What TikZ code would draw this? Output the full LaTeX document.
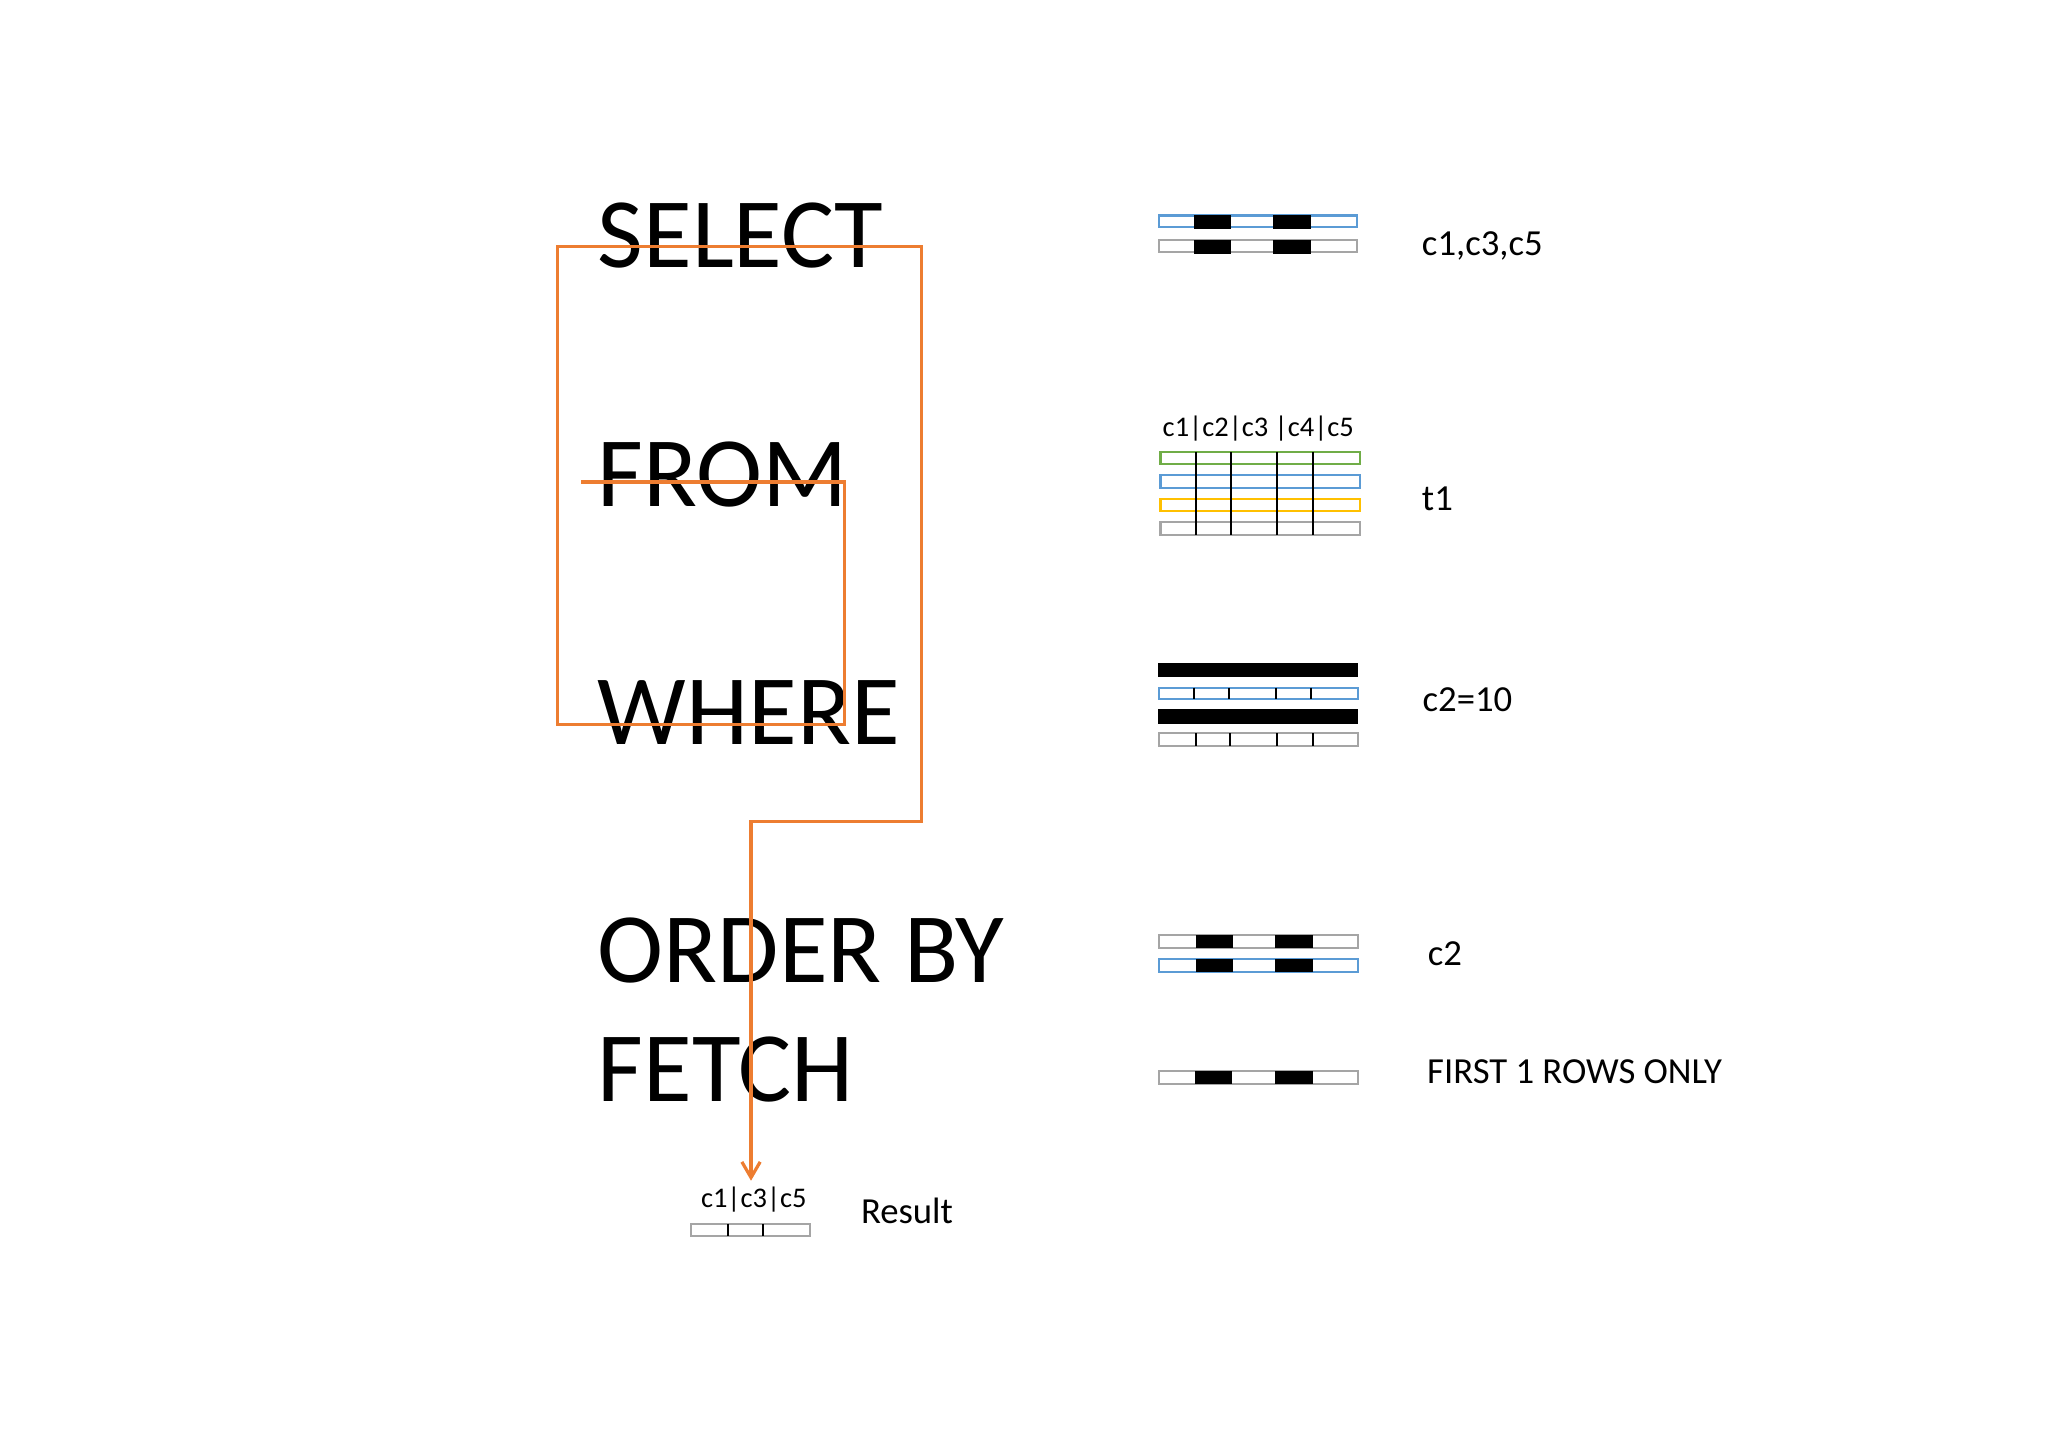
\documentclass[tikz,border=0pt]{standalone}
\usepackage{fontspec}
\setmainfont{Carlito}
\usepackage{xcolor}
\usepackage{tikz}
\usetikzlibrary{arrows.meta}
\definecolor{naranja}{RGB}{237,125,49}
\definecolor{azul}{RGB}{91,155,213}
\definecolor{gris}{RGB}{165,165,165}
\definecolor{verde}{RGB}{112,173,71}
\definecolor{amarillo}{RGB}{255,192,0}

\begin{document}
\begin{tikzpicture}[x=0.1mm, y=-0.1mm,
    clausula/.style={anchor=base west, inner sep=0pt, font=\fontsize{21.7}{26}\selectfont},
    etiqueta/.style={anchor=base west, inner sep=0pt, font=\fontsize{8}{9.6}\selectfont},
    cabecera/.style={anchor=base west, inner sep=0pt, font=\fontsize{6.2}{7.5}\selectfont},
    fila/.style={line width=0.45pt},
    flujo/.style={naranja, line width=0.7pt, -{Straight Barb[length=1.2mm,width=1.4mm]}}]
    \useasboundingbox (0,0) rectangle (1568,1107);

    % clausulas
    \node[clausula] (select) at (457,204.8) {SELECT};
    \node[clausula] (from) at (457,387.6) {FROM};
    \node[clausula] (where) at (457,570) {WHERE};
    \node[clausula] (orderby) at (457,752.4) {ORDER BY};
    \node[clausula] (fetch) at (457,843.5) {FETCH};

    % SELECT: columnas elegidas
    \draw[fila,azul] (887,165) rectangle (1039,174);
    \draw[fila,gris] (887,184) rectangle (1039,193);
    \foreach \y in {164.5,184} {
        \fill (914,\y) rectangle (942.5,\y+10.5);
        \fill (975,\y) rectangle (1004,\y+10.5);
    }
    \node[etiqueta] (lsel) at (1088,195.3) {c1,c3,c5};

    % FROM: la tabla t1
    \node[cabecera] (cabt1) at (889.5,333.9) {c1|c2|c3 |c4|c5};
    \foreach \y/\c in {346/verde,364/azul,382/amarillo,400/gris}
        \draw[fila,\c] (888.5,\y) rectangle (1041,\y+9.5);
    \foreach \x in {916,942.5,978,1005}
        \draw[fila] (\x,346) -- (\x,409.5);
    \node[etiqueta] (lfrom) at (1088,391) {t1};

    % WHERE: filas que cumplen
    \fill (886.5,507.5) rectangle (1040,518);
    \draw[fila,azul] (887,526.5) rectangle (1040,535.5);
    \fill (886.5,543) rectangle (1040,554);
    \draw[fila,gris] (887,561.5) rectangle (1040,571);
    \foreach \x in {914.5,941,977,1004} {
        \draw[fila] (\x,526.5) -- (\x,535.5);
        \draw[fila] (\x+1,561.5) -- (\x+1,571);
    }
    \node[etiqueta] (lwhere) at (1088.5,545) {c2=10};

    % ORDER BY
    \draw[fila,gris] (887.5,716) rectangle (1040,726);
    \draw[fila,azul] (887.5,734) rectangle (1040,744);
    \foreach \y in {716,734} {
        \fill (915.5,\y) rectangle (944,\y+10);
        \fill (976.5,\y) rectangle (1005.5,\y+10);
    }
    \node[etiqueta] (lorder) at (1092.5,739.4) {c2};

    % FETCH
    \draw[fila,gris] (887,820) rectangle (1040,830);
    \fill (915,820) rectangle (943.5,830);
    \fill (976,820) rectangle (1005,830);
    \node[etiqueta] (lfetch) at (1092,829.5) {FIRST 1 ROWS ONLY};

    % resultado
    \node[cabecera] (cabres) at (536,924.4) {c1|c3|c5};
    \draw[fila,gris] (529,937) rectangle (620,946);
    \foreach \x in {557.7,584.5}
        \draw[fila] (\x,937) -- (\x,946);
    \node[etiqueta] (result) at (658.5,936.7) {Result};

    % orden de ejecucion
    \coordinate (inicio) at (445,369);
    \coordinate (fin) at (575,904);
    \draw[flujo] (inicio) -| (646.5,554.5) -| (427,189) -| (705.5,629) -| (fin);
\end{tikzpicture}
\end{document}
